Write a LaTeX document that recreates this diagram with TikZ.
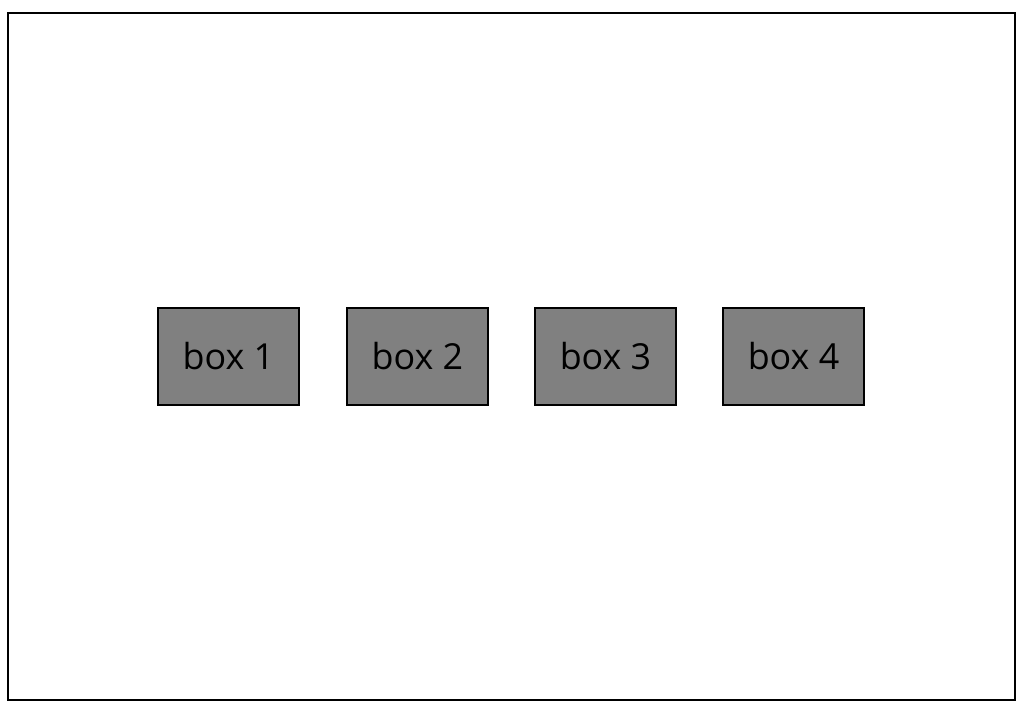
\documentclass[tikz,border=0pt]{standalone}
\usepackage{fontspec}
\setmainfont{Open Sans}
\usepackage{tikz}
\tikzset{greybox/.style={rectangle, draw, line width=0.8pt, fill={rgb,255:red,128;green,128;blue,128}, minimum width=3.525cm, minimum height=2.425cm, inner sep=0pt, font=\fontsize{25.5}{30}\selectfont}}

\begin{document}
\begin{tikzpicture}[x=0.025cm, y=-0.025cm]
						\useasboundingbox (0, 0) rectangle (1024, 716);
						\draw[line width=1.1pt] (8, 13) rectangle (1015, 700);
						\node[greybox] (box1) at (228.5, 356.5) {box 1};
						\node[greybox] (box2) at (417.5, 356.5) {box 2};
						\node[greybox] (box3) at (605.5, 356.5) {box 3};
						\node[greybox] (box4) at (793.5, 356.5) {box 4};
					\end{tikzpicture}
\end{document}
